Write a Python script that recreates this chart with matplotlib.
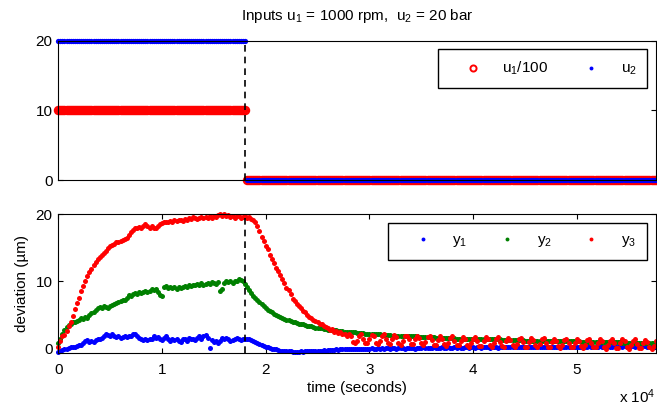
import numpy as np
import matplotlib
matplotlib.use('Agg')
import matplotlib.pyplot as plt

params = {'font.family': 'Liberation Sans',
          'font.size': 11,
          'mathtext.fontset': 'custom',
          'mathtext.rm': 'Liberation Sans',
          'mathtext.it': 'Liberation Sans:italic',
          'mathtext.default': 'regular',
          'axes.linewidth': 0.8,
          'xtick.direction': 'in',
          'ytick.direction': 'in',
          'xtick.major.size': 3.6,
          'ytick.major.size': 3.6,
          'xtick.major.width': 0.8,
          'ytick.major.width': 0.8,
          }
plt.rcParams.update(params)

#################### DATA ##############################

# sampling grid (seconds), one sample every 200 s
t = np.arange(0, 57601, 200)
t_switch = 18000

# inputs before / after the switch
u1_on, u1_off = 1000, 0     # rpm
u2_on, u2_off = 20, 0       # bar

# outputs (deviation, um)
y1 = [-0.5, -0.3, -0.2, 0.0, 0.0, 0.1, 0.2, 0.3, 0.2, 0.4,
      0.5, 0.5, 0.9, 1.1, 1.3, 1.0, 1.1, 1.0, 1.3, 1.5,
      1.4, 1.6, 1.9, 2.2, 2.0, 1.8, 2.1, 1.9, 1.7, 1.8,
      1.6, 1.7, 1.8, 1.7, 1.9, 1.8, 2.1, 2.2, 1.8, 1.6,
      1.5, 1.3, 1.4, 1.3, 1.4, 1.5, 1.8, 1.6, 1.7, 1.5,
      1.3, 1.6, 1.8, 1.5, 1.2, 1.4, 1.3, 1.5, 1.1, 1.0,
      1.4, 1.5, 1.2, 1.6, 1.4, 1.5, 1.3, 1.6, 1.8, 1.5,
      1.9, 2.0, 1.6, 0.1, 1.3, 1.0, 1.2, 0.9, 1.1, 1.6,
      1.4, 1.6, 1.5, 1.2, 1.3, 1.5, 1.6, 1.4, 1.3, 1.5,
      1.5, 1.4, 1.5, 1.3, 1.2, 1.0, 0.9, 0.7, 0.5, 0.4,
      0.3, 0.2, 0.1, 0.0, -0.1, -0.1, -0.2, -0.3, -0.3, -0.3,
      -0.4, -0.4, -0.4, -0.5, -0.5, -0.5, -0.5, -0.4, -0.5, -0.4,
      -0.4, -0.4, -0.4, -0.3, -0.4, -0.3, -0.3, -0.3, -0.2, -0.3,
      -0.2, -0.2, -0.2, -0.2, -0.1, -0.2, -0.1, -0.1, -0.1, -0.1,
      -0.1, 0.0, -0.1, 0.0, -0.1, 0.0, 0.0, -0.1, 0.0, 0.0,
      0.0, 0.1, 0.0, 0.0, 0.1, 0.0, 0.1, 0.0, 0.1, 0.1,
      0.0, 0.1, 0.1, 0.0, 0.1, 0.1, 0.1, 0.0, 0.1, 0.1,
      0.1, 0.1, 0.0, 0.1, 0.1, 0.1, 0.2, 0.1, 0.1, 0.1,
      0.1, 0.2, 0.1, 0.1, 0.1, 0.2, 0.1, 0.1, 0.2, 0.1,
      0.1, 0.2, 0.1, 0.2, 0.1, 0.1, 0.2, 0.2, 0.1, 0.2,
      0.2, 0.1, 0.2, 0.2, 0.1, 0.2, 0.2, 0.2, 0.1, 0.2,
      0.2, 0.2, 0.1, 0.2, 0.2, 0.2, 0.3, 0.2, 0.2, 0.2,
      0.2, 0.3, 0.2, 0.2, 0.2, 0.3, 0.2, 0.2, 0.3, 0.2,
      0.2, 0.3, 0.2, 0.3, 0.2, 0.2, 0.3, 0.3, 0.2, 0.3,
      0.3, 0.2, 0.3, 0.3, 0.2, 0.3, 0.3, 0.3, 0.2, 0.3,
      0.3, 0.3, 0.2, 0.3, 0.3, 0.3, 0.4, 0.3, 0.3, 0.3,
      0.3, 0.4, 0.3, 0.3, 0.3, 0.4, 0.3, 0.3, 0.4, 0.3,
      0.3, 0.4, 0.3, 0.4, 0.3, 0.3, 0.4, 0.4, 0.3, 0.4,
      0.4, 0.3, 0.4, 0.4, 0.3, 0.4, 0.4, 0.4, 0.3]

y2 = [0.8, 1.5, 2.2, 2.7, 3.2, 3.5, 3.7, 3.9, 4.0, 4.1,
      4.2, 4.5, 4.4, 4.7, 4.6, 5.0, 5.3, 5.5, 5.7, 6.0,
      6.2, 6.1, 6.4, 6.2, 6.0, 6.3, 6.5, 6.7, 6.8, 7.0,
      7.1, 7.3, 7.2, 7.6, 8.0, 7.9, 8.1, 8.3, 8.2, 8.4,
      8.3, 8.5, 8.6, 8.4, 8.6, 8.8, 8.7, 8.8, 8.5, 8.0,
      7.9, 9.1, 9.3, 9.0, 9.2, 9.0, 9.1, 8.9, 9.2, 9.0,
      9.1, 9.3, 9.2, 9.4, 9.3, 9.5, 9.4, 9.6, 9.5, 9.7,
      9.5, 9.6, 9.8, 9.6, 9.9, 9.7, 9.6, 9.9, 8.6, 8.9,
      9.8, 10.0, 9.9, 10.0, 9.8, 10.1, 10.0, 10.4, 10.2, 10.0,
      9.6, 9.1, 8.7, 8.3, 7.9, 7.5, 7.2, 6.9, 6.6, 6.3,
      6.0, 5.8, 5.6, 5.4, 5.2, 5.0, 4.9, 4.7, 4.6, 4.4,
      4.3, 4.2, 4.1, 4.0, 3.9, 3.8, 3.7, 3.6, 3.6, 3.5,
      3.4, 3.3, 3.3, 3.2, 3.1, 3.1, 3.0, 3.0, 2.9, 2.9,
      2.8, 2.8, 2.7, 2.7, 2.7, 2.6, 2.6, 2.6, 2.5, 2.5,
      2.5, 2.4, 2.4, 2.4, 2.3, 2.3, 2.3, 2.3, 2.2, 2.2,
      2.2, 2.2, 2.1, 2.1, 2.1, 2.1, 2.0, 2.0, 2.0, 2.0,
      2.0, 1.9, 1.9, 1.9, 1.9, 1.9, 1.9, 1.8, 1.8, 1.8,
      1.8, 1.8, 1.8, 1.8, 1.7, 1.7, 1.7, 1.7, 1.7, 1.7,
      1.7, 1.7, 1.6, 1.6, 1.6, 1.6, 1.6, 1.6, 1.6, 1.6,
      1.6, 1.6, 1.5, 1.5, 1.5, 1.5, 1.5, 1.5, 1.5, 1.5,
      1.5, 1.5, 1.5, 1.4, 1.4, 1.4, 1.4, 1.4, 1.4, 1.4,
      1.4, 1.4, 1.4, 1.4, 1.3, 1.3, 1.3, 1.3, 1.3, 1.3,
      1.3, 1.3, 1.3, 1.3, 1.3, 1.2, 1.2, 1.2, 1.2, 1.2,
      1.2, 1.2, 1.2, 1.2, 1.2, 1.2, 1.2, 1.1, 1.1, 1.1,
      1.1, 1.1, 1.1, 1.1, 1.1, 1.1, 1.1, 1.1, 1.1, 1.1,
      1.1, 1.1, 1.0, 1.0, 1.0, 1.0, 1.0, 1.0, 1.0, 1.0,
      1.0, 1.0, 1.0, 1.0, 1.0, 1.0, 1.0, 1.0, 1.0, 1.0,
      1.0, 1.0, 0.9, 0.9, 0.9, 0.9, 0.9, 0.9, 0.9, 0.9,
      0.9, 0.9, 0.9, 0.9, 0.9, 0.9, 0.9, 0.9, 0.9]

y3 = [0.2, 1.2, 1.8, 2.0, 2.6, 3.3, 4.0, 4.9, 5.9, 6.8,
      7.6, 8.6, 9.3, 10.1, 10.8, 11.4, 11.9, 12.4, 12.9, 13.3,
      13.6, 13.9, 14.3, 14.6, 15.0, 15.3, 15.4, 15.6, 15.8, 15.8,
      16.0, 16.1, 16.3, 16.5, 16.9, 17.3, 17.6, 17.9, 17.9, 18.1,
      18.0, 18.3, 18.5, 18.2, 18.0, 18.2, 17.9, 18.0, 18.3, 18.6,
      18.7, 18.8, 18.9, 18.8, 19.0, 18.9, 19.1, 19.0, 19.1, 19.2,
      19.0, 19.3, 19.2, 19.4, 19.3, 19.6, 19.4, 19.3, 19.5, 19.6,
      19.4, 19.6, 19.5, 19.7, 19.5, 19.8, 19.6, 19.9, 20.1, 19.8,
      20.0, 19.7, 19.9, 19.6, 19.8, 19.5, 19.7, 19.8, 19.5, 19.6,
      19.7, 19.5, 19.6, 19.3, 19.2, 18.8, 18.3, 17.5, 16.6, 16.0,
      15.3, 14.8, 14.0, 13.4, 12.8, 12.0, 11.5, 10.9, 10.3, 9.7,
      9.0, 8.7, 8.1, 7.4, 7.1, 6.7, 6.3, 6.0, 5.6, 5.4,
      5.0, 4.7, 4.5, 4.2, 4.1, 3.9, 3.7, 3.6, 3.4, 3.2,
      3.0, 2.8, 2.9, 2.5, 2.6, 2.3, 2.4, 2.1, 2.2, 1.8,
      2.1, 1.8, 1.0, 0.8, 1.2, 1.9, 2.1, 1.5, 0.9, 0.8, 1.5,
      2.0, 1.8, 0.9, 0.7, 1.2, 1.8, 2.1, 1.4, 0.8, 0.7, 1.4,
      2.0, 1.7, 0.9, 0.6, 1.1, 1.8, 1.9, 1.4, 0.7, 0.7, 1.4,
      1.9, 1.6, 0.8, 0.5, 1.0, 1.7, 1.9, 1.3, 0.6, 0.6, 1.3,
      1.8, 1.5, 0.7, 0.4, 0.9, 1.6, 1.8, 1.2, 0.5, 0.5, 1.2,
      1.7, 1.4, 0.6, 0.3, 0.8, 1.5, 1.7, 1.1, 0.4, 0.4, 1.1,
      1.7, 1.4, 0.6, 0.3, 0.8, 1.5, 1.7, 1.0, 0.4, 0.3, 1.1,
      1.6, 1.3, 0.5, 0.2, 0.7, 1.4, 1.6, 1.0, 0.3, 0.3, 1.0,
      1.6, 1.3, 0.5, 0.2, 0.7, 1.4, 1.6, 0.9, 0.3, 0.3, 1.0,
      1.5, 1.2, 0.4, 0.1, 0.6, 1.3, 1.5, 0.9, 0.2, 0.2, 0.9,
      1.5, 1.2, 0.4, 0.1, 0.6, 1.3, 1.5, 0.8, 0.2, 0.2, 0.9,
      1.4, 1.1, 0.3, 0.0, 0.5, 1.2, 1.4, 0.8, 0.1, 0.1, 0.8,
      1.4, 1.1, 0.3, 0.0, 0.5, 1.2, 1.4, 0.7, 0.1, 0.1, 0.8,
      1.3, 1.0, 0.2, -0.1, 0.4, 1.1]

u1 = np.where(t <= t_switch, u1_on, u1_off) / 100.0
u2 = np.where(t <= t_switch, u2_on, u2_off)

#################### PLOT ##############################

fig = plt.figure(figsize=(6.57, 4.08), dpi=100)

ax1 = fig.add_axes([0.0887, 0.5588, 0.9093, 0.3414])
ax2 = fig.add_axes([0.0887, 0.1341, 0.9093, 0.3407])

# top: inputs
ax1.plot(t, u1, 'o', ms=5.2, mfc='none', mec='red', mew=1.6, clip_on=False,
         label=r'u$_1$/100')
ax1.plot(t, u2, 'o', ms=3.8, mfc='blue', mec='none', clip_on=False,
         label=r'u$_2$')
ax1.axvline(t_switch, color='black', lw=1.2, dashes=(4, 3))
ax1.set_xlim(0, 57600)
ax1.set_ylim(0, 20)
ax1.set_yticks([0, 10, 20])
ax1.set_xticks([])
ax1.tick_params(right=True, pad=4)
ax1.set_title(r'Inputs u$_1$ = 1000 rpm,  u$_2$ = 20 bar', fontsize=11, pad=15)
leg1 = ax1.legend(loc='upper right', bbox_to_anchor=(0.986, 0.938), borderaxespad=0,
                  ncol=2, handlelength=3.2, handletextpad=0.33, columnspacing=1.2,
                  borderpad=0.7, fancybox=False, edgecolor='black', framealpha=1,
                  numpoints=1)
leg1.legend_handles[0].set_markersize(4.4)
leg1.legend_handles[0].set_markeredgewidth(1.4)
leg1.legend_handles[1].set_markersize(2.8)

# bottom: outputs
ax2.plot(t, y1, 'o', ms=3.6, mfc='blue', mec='none', clip_on=False, label=r'y$_1$')
ax2.plot(t, y2, 'o', ms=3.6, mfc='green', mec='none', clip_on=False, label=r'y$_2$')
ax2.plot(t, y3, 'o', ms=3.6, mfc='red', mec='none', clip_on=False, label=r'y$_3$')
ax2.axvline(t_switch, color='black', lw=1.2, dashes=(4, 3))
ax2.set_xlim(0, 57600)
ax2.set_ylim(-0.7, 20)
ax2.set_yticks([0, 10, 20])
ax2.set_xticks([0, 10000, 20000, 30000, 40000, 50000])
ax2.set_xticklabels(['0', '1', '2', '3', '4', '5'])
ax2.tick_params(axis='x', top=True, pad=7)
ax2.tick_params(axis='y', right=True, pad=4)
ax2.set_xlabel('time (seconds)', labelpad=3)
ax2.set_ylabel('deviation (µm)', labelpad=5)
leg2 = ax2.legend(loc='upper right', bbox_to_anchor=(0.985, 0.94), borderaxespad=0,
                  ncol=3, handlelength=3.2, handletextpad=0.33, columnspacing=1.0,
                  borderpad=0.7, fancybox=False, edgecolor='black', framealpha=1,
                  numpoints=1)
for h in leg2.legend_handles:
    h.set_markersize(2.8)

fig.text(0.997, 1 - 403.0 / 408, r'x 10$^4$', ha='right', va='baseline', fontsize=11)

fig.savefig('out.png', dpi=100)
